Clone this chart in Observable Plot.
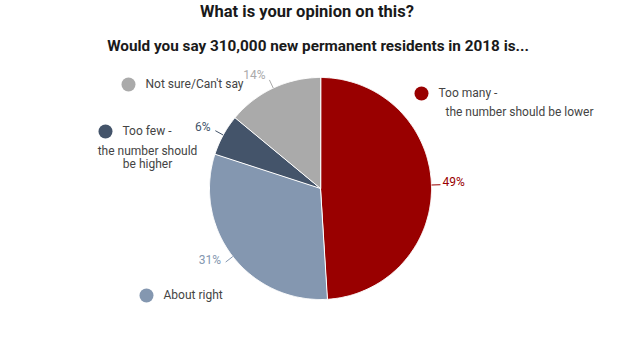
<!DOCTYPE html>
<html><head><meta charset="utf-8">
<script src="https://cdn.jsdelivr.net/npm/d3@7"></script>
<script src="https://cdn.jsdelivr.net/npm/@observablehq/plot@0.6"></script>
<style>
body{margin:0;background:#fff;font-family:Roboto,sans-serif;}
#titles{height:62px;position:relative;width:635px;}
.t{position:absolute;transform:translateX(-50%);font-weight:bold;line-height:18px;color:#1a1a1a;white-space:nowrap;}
#chart svg{display:block;}
</style></head><body>
<div id="titles">
  <div class="t" style="left:307px;top:3px;font-size:16.5px">What is your opinion on this?</div>
  <div class="t" style="left:318px;top:37px;font-size:15.3px">Would you say 310,000 new permanent residents in 2018 is...</div>
</div>
<div id="chart"></div>
<script>
// ---- data ----
const categories = ["Too many - the number should be lower", "About right", "Too few - the number should be higher", "Not sure/Can't say"];
const shares = [49, 31, 6, 14];
const pctLabels = ["49%", "31%", "6%", "14%"];
const colors = ["#990000", "#8497b0", "#44546a", "#aaaaaa"];
const legendLines = [
  ["Too many -", " the number should be lower"],
  ["About right"],
  ["Too few -", "the number should", "be higher"],
  ["Not sure/Can't say"]
];

// ---- layout (pixels relative to pie centre, y up) ----
const R = 111;
const legendLayout = [
  {x: 101, y: 95, lines: [[17, 0, "start"], [21, -19, "start"]]},
  {x: -174, y: -107, lines: [[17, 0, "start"]]},
  {x: -215, y: 57, lines: [[17, 0, "start"], [42, -20, "middle"], [42, -33, "middle"]]},
  {x: -192, y: 104, lines: [[17, 0, "start"]]}
];

const arcs = d3.pie().sort(null).value(d => d)(shares);

const sliceMarks = arcs.map((a, i) => {
  const pts = [{x: 0, y: 0}];
  const n = Math.max(2, Math.ceil((a.endAngle - a.startAngle) / 0.01));
  for (let k = 0; k <= n; k++) {
    const t = a.startAngle + (a.endAngle - a.startAngle) * k / n;
    pts.push({x: R * Math.sin(t), y: R * Math.cos(t)});
  }
  return Plot.line(pts, {x: "x", y: "y", fill: colors[i], stroke: "white", strokeWidth: 1, curve: "linear-closed"});
});

const pctData = arcs.map((a, i) => {
  const m = (a.startAngle + a.endAngle) / 2;
  return {
    label: pctLabels[i], color: colors[i],
    x1: R * Math.sin(m), y1: R * Math.cos(m),
    x2: (R + 9) * Math.sin(m), y2: (R + 9) * Math.cos(m),
    tx: (R + 11) * Math.sin(m), ty: (R + 11) * Math.cos(m),
    right: Math.sin(m) >= 0
  };
});

const legendDots = legendLayout.map((l, i) => ({x: l.x, y: l.y, color: colors[i]}));
const legendText = [];
legendLayout.forEach((l, i) => l.lines.forEach((ln, j) => {
  legendText.push({x: l.x + ln[0], y: l.y + ln[1], anchor: ln[2], text: legendLines[i][j]});
}));

const chart = Plot.plot({
  width: 635, height: 295,
  margin: 0,
  x: {domain: [-320, 315], axis: null},
  y: {domain: [-169, 126], axis: null},
  style: {fontFamily: "Roboto, sans-serif", background: "white"},
  marks: [
    ...sliceMarks,
    Plot.link(pctData, {x1: "x1", y1: "y1", x2: "x2", y2: "y2", stroke: d => d.color, strokeWidth: 1}),
    Plot.text(pctData.filter(d => d.right), {x: "tx", y: "ty", text: "label", fill: d => d.color, textAnchor: "start", dy: -3, fontSize: 12}),
    Plot.text(pctData.filter(d => !d.right), {x: "tx", y: "ty", text: "label", fill: d => d.color, textAnchor: "end", dx: -3, dy: -3, fontSize: 12}),
    Plot.dot(legendDots, {x: "x", y: "y", r: 7, fill: d => d.color, stroke: null}),
    Plot.text(legendText.filter(d => d.anchor === "start"), {x: "x", y: "y", text: "text", textAnchor: "start", fill: "#444", fontSize: 12}),
    Plot.text(legendText.filter(d => d.anchor === "middle"), {x: "x", y: "y", text: "text", textAnchor: "middle", fill: "#444", fontSize: 12})
  ]
});
document.getElementById("chart").appendChild(chart);
</script>
</body></html>
